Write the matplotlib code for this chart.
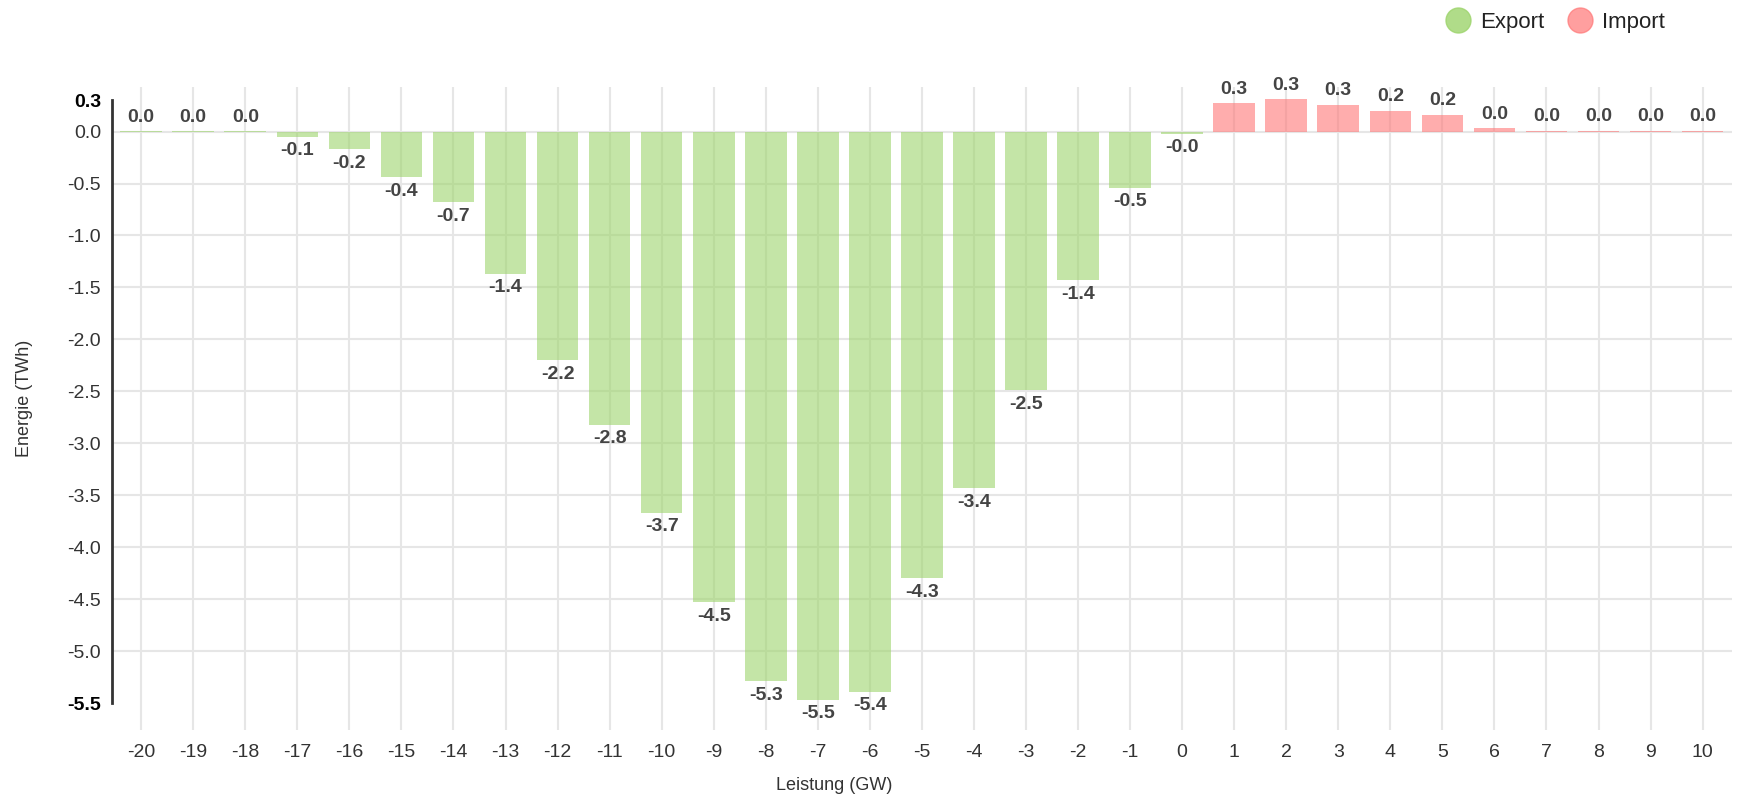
import matplotlib
matplotlib.use("Agg")
import matplotlib.pyplot as plt
from matplotlib.lines import Line2D

plt.rcParams['font.family'] = ['Liberation Sans', 'DejaVu Sans']

# Leistung (GW) buckets and energy (TWh) per bucket
leistung = list(range(-20, 11))
energie = [0.003, 0.003, 0.003, -0.05, -0.17, -0.44, -0.68, -1.37, -2.2, -2.82,
           -3.67, -4.53, -5.29, -5.47, -5.39, -4.30, -3.43, -2.49, -1.43, -0.54,
           -0.02, 0.27, 0.31, 0.26, 0.20, 0.16, 0.03, 0.01, 0.01, 0.01, 0.01]
y_ticks = [0.3, 0.0, -0.5, -1.0, -1.5, -2.0, -2.5, -3.0, -3.5, -4.0, -4.5, -5.0, -5.5]

green = '#9dd46c'
red = '#ff7777'

fig = plt.figure(figsize=(17.37, 7.97), dpi=100)
ax = fig.add_axes([0.0645, 0.084, 0.9325, 0.807])

colors = [green if (v < 0 or x < 0) else red for x, v in zip(leistung, energie)]
bars = ax.bar(leistung, energie, width=0.8, color=colors, alpha=0.6, zorder=2)

for x, v in zip(leistung, energie):
    label = f"{v:.1f}"
    if v >= 0:
        ax.annotate(label, (x, v), xytext=(0, 4), textcoords='offset points',
                    ha='center', va='bottom', fontsize=14, fontweight='bold', color='#444444')
    else:
        ax.annotate(label, (x, v), xytext=(0, -4), textcoords='offset points',
                    ha='center', va='top', fontsize=14, fontweight='bold', color='#444444')

ax.set_xlim(-20.56, 10.56)
ax.set_ylim(-5.76, 0.43)
ax.set_xticks(leistung)
ax.set_xticklabels([str(x) for x in leistung])
ax.set_yticks(y_ticks)
ax.set_yticklabels([f"{t:.1f}" for t in y_ticks])

for lbl in ax.get_yticklabels():
    if lbl.get_text() in ('0.3', '-5.5'):
        lbl.set_fontweight('bold')
        lbl.set_color('black')
    else:
        lbl.set_color('#333333')

ax.tick_params(axis='both', length=0, labelsize=14)
ax.tick_params(axis='x', pad=10, colors='#333333')
ax.tick_params(axis='y', pad=8)

# grid: vertical at every category, horizontal without end ticks
ax.grid(axis='x', color='#e6e6e6', linewidth=1.5, zorder=0)
for t in y_ticks[1:-1]:
    ax.axhline(t, color='#e6e6e6', linewidth=1.5, zorder=0)
ax.set_axisbelow(True)

for s in ['top', 'right', 'bottom']:
    ax.spines[s].set_visible(False)
ax.spines['left'].set_color('#333333')
ax.spines['left'].set_linewidth(2)
ax.spines['left'].set_bounds(-5.5, 0.3)

fig.text(0.014, 0.5, 'Energie (TWh)', rotation=90, ha='center', va='center',
         fontsize=13, color='#333333')
fig.text(0.48, 0.015, 'Leistung (GW)', ha='center', va='center',
         fontsize=13, color='#333333')

handles = [Line2D([], [], marker='o', linestyle='', markersize=18, color=green, alpha=0.8),
           Line2D([], [], marker='o', linestyle='', markersize=18, color=red, alpha=0.7)]
fig.legend(handles, ['Export', 'Import'], loc='upper right', bbox_to_anchor=(0.97, 1.01),
           ncol=2, frameon=False, fontsize=16, handletextpad=0.0, columnspacing=0.6,
           labelcolor='#222222')

fig.savefig('out.png', dpi=100)
